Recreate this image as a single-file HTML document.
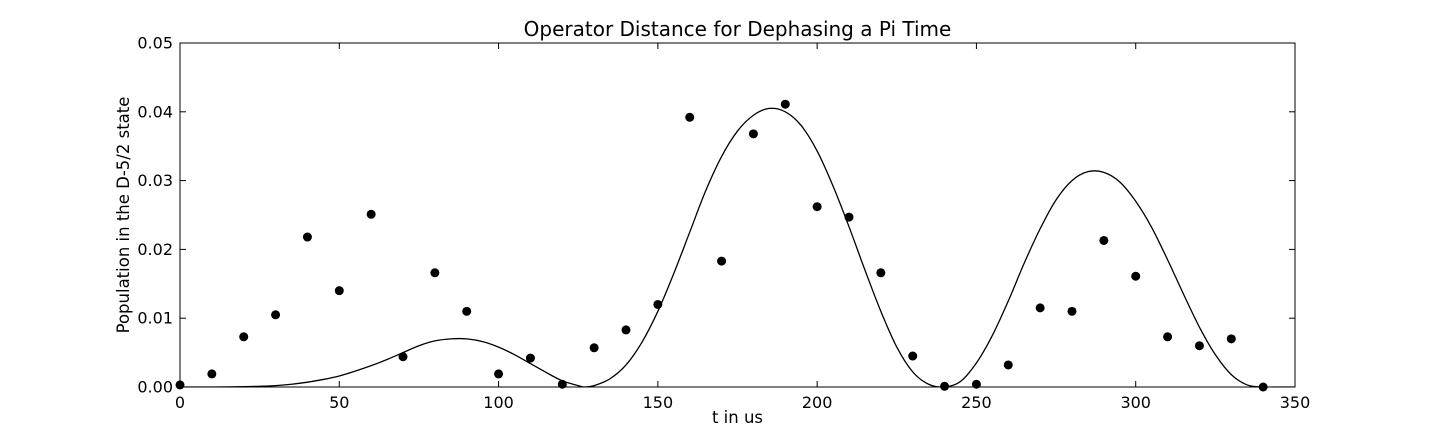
<!DOCTYPE html>
<html><head><meta charset="utf-8"><style>
body{margin:0;background:#fff;}
svg text{font-family:"DejaVu Sans","Liberation Sans",sans-serif;fill:#000;}
</style></head><body>
<svg width="1438" height="430" xmlns="http://www.w3.org/2000/svg" id="svg">
<rect width="1438" height="430" fill="#fff"/>
<g id="plot"></g>
<text x="737.5" y="36" font-size="20" text-anchor="middle">Operator Distance for Dephasing a Pi Time</text>
<text x="737.5" y="423" font-size="16.5" text-anchor="middle">t in us</text>
<text transform="translate(129,215) rotate(-90)" font-size="16.5" text-anchor="middle">Population in the D-5/2 state</text>
</svg>
<script>
const pointX=[0,10,20,30,40,50,60,70,80,90,100,110,120,130,140,150,160,170,180,190,200,210,220,230,240,250,260,270,280,290,300,310,320,330,340];
const pointY=[0.0003,0.0019,0.0073,0.0105,0.0218,0.014,0.0251,0.0044,0.0166,0.011,0.0019,0.0042,0.0004,0.0057,0.0083,0.012,0.0392,0.0183,0.0368,0.0411,0.0262,0.0247,0.0166,0.0045,0.0001,0.0004,0.0032,0.0115,0.011,0.0213,0.0161,0.0073,0.006,0.007,0.0];
const curveX=[0,5,10,15,20,25,30,35,40,45,50,55,60,65,70,75,80,85,90,95,100,105,110,115,120,125,127,130,135,140,145,150,155,160,165,170,175,180,185,190,195,200,205,210,215,220,225,230,235,240,245,250,255,260,265,270,275,280,285,290,295,300,305,310,315,320,325,330,335,340,345,350];
const curveY=[0,0,0,0.00002,0.00005,0.0001,0.0002,0.0004,0.0007,0.0011,0.0016,0.0023,0.0031,0.004,0.005,0.006,0.0067,0.007,0.007,0.0066,0.0058,0.0047,0.0034,0.0021,0.0009,0.0002,0,0.0002,0.0012,0.0032,0.0065,0.011,0.0165,0.0225,0.0285,0.0335,0.0372,0.0395,0.0405,0.04,0.038,0.0343,0.0292,0.0233,0.017,0.011,0.0058,0.0022,0.0004,0,0.0008,0.0035,0.0075,0.0125,0.018,0.023,0.0272,0.03,0.0313,0.0312,0.0298,0.027,0.0232,0.0185,0.0135,0.0087,0.0047,0.0018,0.0003,0,0,0];
const xTicks=[0,50,100,150,200,250,300,350];
const yTicks=[0,0.01,0.02,0.03,0.04,0.05];
const yTickLabels=["0.00","0.01","0.02","0.03","0.04","0.05"];
const L=180,R=1295,T=43,B=387;
const sx=v=>L+(v/350)*(R-L);
const sy=v=>B-(v/0.05)*(B-T);
const NS="http://www.w3.org/2000/svg";
const g=document.getElementById('plot');
function mk(t,a){const e=document.createElementNS(NS,t);for(const k in a)e.setAttribute(k,a[k]);g.appendChild(e);return e;}
const cp=mk('clipPath',{id:'cp'});
const cr=document.createElementNS(NS,'rect');cp.appendChild(cr);
cr.setAttribute('x',L);cr.setAttribute('y',T);cr.setAttribute('width',R-L);cr.setAttribute('height',B-T);
let pts=curveX.map((x,i)=>[sx(x),sy(curveY[i])]);
let d='M'+pts[0][0]+','+pts[0][1];
for(let i=0;i<pts.length-1;i++){const p0=pts[Math.max(0,i-1)],p1=pts[i],p2=pts[i+1],p3=pts[Math.min(pts.length-1,i+2)];
d+=`C${p1[0]+(p2[0]-p0[0])/6},${p1[1]+(p2[1]-p0[1])/6} ${p2[0]-(p3[0]-p1[0])/6},${p2[1]-(p3[1]-p1[1])/6} ${p2[0]},${p2[1]}`;}
const c=mk('path',{d:d,fill:'none',stroke:'#000','stroke-width':1.3,'clip-path':'url(#cp)'});


pointX.forEach((x,i)=>{const p=mk('circle',{cx:sx(x),cy:sy(pointY[i]),r:4.5,fill:'#000'});

});
const fr=mk('rect',{x:L,y:T,width:R-L,height:B-T,fill:'none',stroke:'#000','stroke-width':1});


xTicks.forEach(v=>{const x=sx(v);
mk('line',{x1:x,x2:x,y1:B,y2:B-6,stroke:'#000'});mk('line',{x1:x,x2:x,y1:T,y2:T+6,stroke:'#000'});
const t=mk('text',{x:x,y:B+21,'font-size':16,'text-anchor':'middle'});t.textContent=v;

});
yTicks.forEach((v,i)=>{const y=sy(v);
mk('line',{x1:L,x2:L+6,y1:y,y2:y,stroke:'#000'});mk('line',{x1:R,x2:R-6,y1:y,y2:y,stroke:'#000'});
const t=mk('text',{x:L-7,y:y+5.5,'font-size':16,'text-anchor':'end'});t.textContent=yTickLabels[i];

});
</script>
</body></html>
